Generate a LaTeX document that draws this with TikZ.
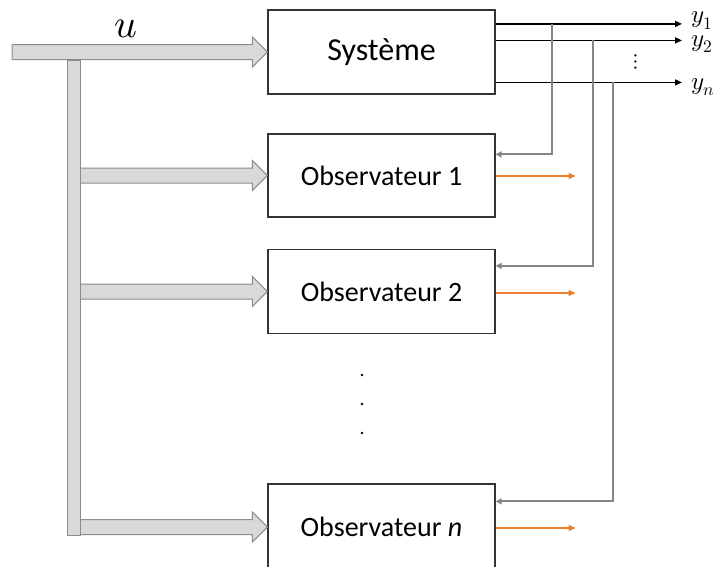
\documentclass[tikz,border=0pt]{standalone}
\usepackage{fontspec}
\usepackage{unicode-math}
\setmainfont{Carlito}
\setmathfont{Latin Modern Math}
\usetikzlibrary{arrows.meta,calc}

% wide hollow arrow from a start point to the tip (horizontal)
\newcommand\fatarrow[2]{%
  \path[fat] let \p1=(#1), \p2=(#2) in
    ({\x1},{\y2+7.5pt}) -- ({\x2-15pt},{\y2+7.5pt}) -- ({\x2-15pt},{\y2+15pt})
    -- ({\x2},{\y2}) -- ({\x2-15pt},{\y2-15pt}) -- ({\x2-15pt},{\y2-7.5pt})
    -- ({\x1},{\y2-7.5pt}) -- cycle;}

\definecolor{fatfill}{HTML}{D9D9D9}
\definecolor{fatline}{HTML}{8C8C8C}
\definecolor{fbgray}{HTML}{858585}
\definecolor{estorange}{HTML}{ED7D31}

\begin{document}
\begin{tikzpicture}[x=1pt,y=-1pt,
  blk/.style={draw=black!80, line width=1.2pt, minimum width=227pt, inner sep=0pt, font=\fontsize{28}{30}\selectfont},
  fat/.style={fill=fatfill, draw=fatline, line width=1pt},
  outl/.style={line width=1.4pt, -{Triangle[length=7pt,width=6pt]}},
  fb/.style={draw=fbgray, line width=2pt, -{Triangle[length=6pt,width=6pt]}},
  est/.style={draw=estorange, line width=1.4pt, -{Triangle[length=7pt,width=6pt]}},
  lab/.style={anchor=west, inner sep=0pt, font=\fontsize{25}{27}\selectfont}]
\useasboundingbox (0,0) rectangle (717,566);

% blocks
\node[blk, minimum height=84pt, font=\fontsize{32}{34}\selectfont] (sys) at (381.5,52) {Système};
\node[blk, minimum height=83pt] (obs1) at (381.5,175.5) {Observateur 1};
\node[blk, minimum height=84pt] (obs2) at (381.5,291.5) {Observateur 2};
\node[blk, minimum height=86pt] (obsn) at (381.5,527) {Observateur \textit{n}};

% input u and its distribution
\coordinate (uin) at (12,51);
\fatarrow{uin}{sys.west}
\node[font=\fontsize{40}{42}\selectfont, inner sep=0pt] (ulab) at (126,29) {$u$};
\coordinate (bar) at (80,0);
\fatarrow{bar}{obs1.west}
\fatarrow{bar}{obs2.west}
\fatarrow{bar}{obsn.west}
\path[fat] (67,60) rectangle (80,535);

% outputs
\coordinate (o1) at ($(sys.north east)+(0,14.5)$);
\coordinate (o2) at ($(sys.north east)+(0,31)$);
\coordinate (on) at ($(sys.north east)+(0,73)$);
\coordinate (e1) at (682,0);
\draw[outl] (o1) -- (e1 |- o1);
\draw[outl] (o2) -- (e1 |- o2);
\draw[outl] (on) -- (e1 |- on);
\node[lab] (y1) at (691,20.5) {$y_1$};
\node[lab] (y2) at (691,44) {$y_2$};
\node[lab] (yn) at (691,87) {$y_n$};
\node[inner sep=0pt, font=\fontsize{22}{24}\selectfont] (vd) at (636,62) {$\vdots$};

% measurements fed to the observers
\coordinate (t1) at (552,0);
\coordinate (t2) at (593,0);
\coordinate (tn) at (613,0);
\draw[fb] (t1 |- o1) |- ($(obs1.north east)+(0,21)$);
\draw[fb] (t2 |- o2) |- ($(obs2.north east)+(0,17)$);
\draw[fb] (tn |- on) |- ($(obsn.north east)+(0,18)$);

% estimates
\draw[est] ($(obs1.east)+(0,0.5)$) -- ++(80,0);
\draw[est] ($(obs2.east)+(0,1.5)$) -- ++(80,0);
\draw[est] ($(obsn.east)+(0,1)$) -- ++(80,0);

% vertical ellipsis between observers
\foreach \yy in {375,404,433} \fill (362,\yy) circle (1.3pt);
\end{tikzpicture}
\end{document}
